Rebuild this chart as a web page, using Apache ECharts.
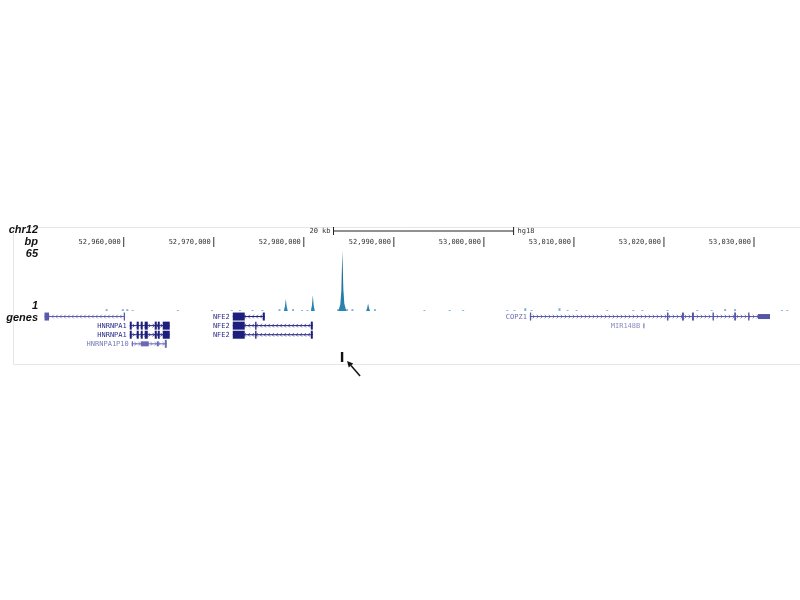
<!DOCTYPE html>
<html>
<head>
<meta charset="utf-8">
<script src="https://cdn.jsdelivr.net/npm/echarts@6/dist/echarts.min.js"></script>
<style>
  html, body { margin: 0; padding: 0; background: #fff; }
  #chart { width: 800px; height: 600px; }
</style>
</head>
<body>
<div id="chart"></div>
<script>
// genomic window (chr12, hg18)
var XMIN = 52950700;
var XMAX = 53034000;
var rulerTicks = [52960000, 52970000, 52980000, 52990000, 53000000, 53010000, 53020000, 53030000];
var scaleBar = [52983300, 53003300]; // 20 kb
var markerPos = 52984250;

// signal track (peaks), value range 0..65
var sigX = [52977780, 52977900, 52978000, 52978100, 52978220,
            52980780, 52980900, 52981000, 52981100, 52981220,
            52983830, 52984050, 52984170, 52984280, 52984390, 52984500, 52984720,
            52986920, 52987030, 52987140, 52987250, 52987360];
var sigY = [0, 5, 13, 5, 0,
            0, 6, 17, 6, 0,
            0, 7, 22, 65, 24, 8, 0,
            0, 3, 8, 3, 0];

// small background reads along the baseline
var dotX = [52958100, 52959900, 52960400, 52961000, 52966000, 52969800, 52972000, 52972900,
            52974300, 52975400, 52977300, 52978800, 52979800, 52980400, 52983800, 52984800,
            52985400, 52987900, 52993400, 52996200, 52997700, 53002600, 53003400, 53004600,
            53005300, 53008400, 53009300, 53010300, 53013700, 53016600, 53017600, 53020400,
            53023700, 53025300, 53026800, 53027900, 53033100, 53033700];
var dotY = [2, 2, 2, 1, 1, 1, 1, 1,
            1, 1, 2, 2, 1, 1, 2, 2,
            2, 2, 1, 1, 1, 1, 1, 3,
            1, 3, 1, 1, 1, 1, 1, 1,
            1, 1, 2, 2, 1, 1];

// gene models
var geneNames  = ['', 'HNRNPA1', 'HNRNPA1', 'HNRNPA1P10', 'NFE2', 'NFE2', 'NFE2', 'COPZ1', 'MIR148B'];
var geneRows   = [0, 1, 2, 3, 0, 1, 2, 0, 1];
var geneStarts = [52951200, 52960670, 52960670, 52960890, 52972110, 52972110, 52972110, 53005110, 53017700];
var geneEnds   = [52960110, 52965110, 52965110, 52964780, 52975670, 52981000, 52981000, 53031780, 53017800];
var geneStrand = [-1, 1, 1, 1, -1, -1, -1, 1, 1];
var geneExons = [
  [[52951200, 52951700, 1], [52960000, 52960110, 1]],
  [[52960670, 52960890, 1], [52961440, 52961670, 1], [52961890, 52962110, 1], [52962330, 52962670, 1],
   [52963440, 52963670, 1], [52963780, 52964000, 1], [52964330, 52965110, 1]],
  [[52960670, 52960890, 1], [52961440, 52961670, 1], [52961890, 52962110, 1], [52962330, 52962670, 1],
   [52963440, 52963670, 1], [52963780, 52964000, 1], [52964330, 52965110, 1]],
  [[52960890, 52961000, 0], [52961890, 52962780, 0], [52963670, 52963890, 0], [52964560, 52964780, 1]],
  [[52972110, 52973440, 1], [52975440, 52975670, 1]],
  [[52972110, 52973440, 1], [52974600, 52974720, 1], [52980780, 52981000, 1]],
  [[52972110, 52973440, 1], [52974600, 52974720, 1], [52980780, 52981000, 1]],
  [[53005110, 53005250, 1], [53020330, 53020500, 1], [53022000, 53022220, 1], [53023110, 53023330, 1],
   [53025400, 53025550, 1], [53027800, 53028000, 1], [53029350, 53029500, 1], [53030440, 53031780, 0]],
  [[53017700, 53017800, 0]]
];
var geneColors      = ['#5a5aaa', '#1e1e7c', '#1e1e7c', '#6a6ab4', '#1e1e7c', '#1e1e7c', '#1e1e7c', '#5656a8', '#8a8ac4'];
var geneLabelColors = ['#5a5aaa', '#2a2a88', '#2a2a88', '#7a7abc', '#2a2a88', '#2a2a88', '#2a2a88', '#6a6ab4', '#8a8ac4'];

// left-hand track labels
var trackLabels = ['chr12', 'bp', '65', '1', 'genes'];
var trackLabelY = [231, 243, 255, 307, 319];

var myChart = echarts.init(document.getElementById('chart'));

function renderGene(params, api) {
  var i = api.value(3);
  var s = api.coord([api.value(0), api.value(2)]);
  var e = api.coord([api.value(1), api.value(2)]);
  var y = s[1];
  var col = geneColors[i];
  var dir = geneStrand[i];
  var children = [];
  children.push({
    type: 'line',
    shape: { x1: s[0], y1: y, x2: e[0], y2: y },
    style: { stroke: col, lineWidth: 1 }
  });
  for (var x = s[0] + 4; x < e[0] - 3; x += 4) {
    children.push({
      type: 'polyline',
      shape: { points: [[x - dir * 1.2, y - 1.8], [x + dir * 0.6, y], [x - dir * 1.2, y + 1.8]] },
      style: { stroke: col, fill: null, lineWidth: 0.7 }
    });
  }
  geneExons[i].forEach(function (ex) {
    var a = api.coord([ex[0], api.value(2)])[0];
    var b = api.coord([ex[1], api.value(2)])[0];
    var h = ex[2] ? 8 : 5;
    children.push({
      type: 'rect',
      shape: { x: a, y: y - h / 2, width: Math.max(b - a, 1.3), height: h },
      style: { fill: col }
    });
  });
  if (geneNames[i]) {
    children.push({
      type: 'text',
      style: {
        text: geneNames[i], x: s[0] - 3, y: y + 0.5,
        align: 'right', verticalAlign: 'middle',
        font: '7px "DejaVu Sans Mono"', fill: geneLabelColors[i]
      }
    });
  }
  return { type: 'group', children: children };
}

function renderRulerTick(params, api) {
  var p = api.coord([api.value(0), 65]);
  return {
    type: 'line',
    shape: { x1: p[0], y1: p[1] - 14, x2: p[0], y2: p[1] - 4 },
    style: { stroke: '#333', lineWidth: 1 }
  };
}

function renderScaleBar(params, api) {
  var a = api.coord([api.value(0), 65]);
  var b = api.coord([api.value(1), 65]);
  var y = a[1] - 20;
  return {
    type: 'group',
    children: [
      { type: 'line', shape: { x1: a[0], y1: y, x2: b[0], y2: y }, style: { stroke: '#222', lineWidth: 1 } },
      { type: 'line', shape: { x1: a[0], y1: y - 4, x2: a[0], y2: y + 4 }, style: { stroke: '#222', lineWidth: 1 } },
      { type: 'line', shape: { x1: b[0], y1: y - 4, x2: b[0], y2: y + 4 }, style: { stroke: '#222', lineWidth: 1 } },
      { type: 'text', style: { text: '20 kb', x: a[0] - 3, y: y, align: 'right', verticalAlign: 'middle',
          font: '7px "DejaVu Sans Mono"', fill: '#333' } },
      { type: 'text', style: { text: 'hg18', x: b[0] + 4, y: y, align: 'left', verticalAlign: 'middle',
          font: '7px "DejaVu Sans Mono"', fill: '#333' } }
    ]
  };
}

function renderMarker(params, api) {
  var p = api.coord([api.value(0), api.value(1)]);
  var hx = p[0] + 5, hy = p[1] - 1;
  var tx = p[0] + 18, ty = p[1] + 14;
  var dx = hx - tx, dy = hy - ty;
  var len = Math.sqrt(dx * dx + dy * dy);
  var ux = dx / len, uy = dy / len;
  var bx = hx - ux * 6, by = hy - uy * 6;
  return {
    type: 'group',
    children: [
      { type: 'rect', shape: { x: p[0] - 1.2, y: p[1] - 10, width: 2.4, height: 10 }, style: { fill: '#111' } },
      { type: 'line', shape: { x1: tx, y1: ty, x2: bx, y2: by }, style: { stroke: '#111', lineWidth: 1.5 } },
      { type: 'polygon', shape: { points: [[hx, hy], [bx - uy * 3, by + ux * 3], [bx + uy * 3, by - ux * 3]] },
        style: { fill: '#111' } }
    ]
  };
}

var option = {
  backgroundColor: '#fff',
  animation: false,
  graphic: [
    {
      type: 'rect', left: 11, top: 225, z: -1,
      shape: { width: 800, height: 137 },
      style: { fill: null, stroke: '#e6e6e6', lineWidth: 1 }
    }
  ].concat(trackLabels.map(function (t, k) {
    return {
      type: 'text', right: 762, top: trackLabelY[k] - 7,
      style: { text: t, font: 'italic bold 11px "Liberation Sans"', fill: '#111', align: 'right' }
    };
  })),
  grid: [
    { left: 40, right: 10, top: 251, height: 60 },
    { left: 40, right: 10, top: 312, height: 50 }
  ],
  xAxis: [
    {
      gridIndex: 0, type: 'value', min: XMIN, max: XMAX, position: 'top', offset: 4,
      axisLine: { show: false },
      splitLine: { show: false },
      axisTick: { show: false },
      axisLabel: {
        customValues: rulerTicks,
        formatter: function (v) { return v.toLocaleString('en-US'); },
        align: 'right', verticalAlign: 'middle', margin: 5, padding: [0, 3, 0, 0],
        fontFamily: 'DejaVu Sans Mono', fontSize: 7, color: '#333'
      }
    },
    {
      gridIndex: 1, type: 'value', min: XMIN, max: XMAX, show: false
    }
  ],
  yAxis: [
    { gridIndex: 0, type: 'value', min: 0, max: 65, show: false },
    { gridIndex: 1, type: 'value', min: -0.5, max: 5, inverse: true, show: false }
  ],
  series: [
    {
      name: 'background',
      type: 'bar', xAxisIndex: 0, yAxisIndex: 0,
      barWidth: 2,
      itemStyle: { color: '#7fb2d4' },
      data: dotX.map(function (x, k) { return [x, dotY[k]]; })
    },
    {
      name: 'signal',
      type: 'line', xAxisIndex: 0, yAxisIndex: 0,
      showSymbol: false,
      lineStyle: { width: 0 },
      areaStyle: {
        opacity: 1,
        color: new echarts.graphic.LinearGradient(0, 0, 0, 1, [
          { offset: 0, color: '#1a5d86' },
          { offset: 1, color: '#2a86b4' }
        ])
      },
      data: sigX.map(function (x, k) { return [x, sigY[k]]; })
    },
    {
      name: 'ruler',
      type: 'custom', xAxisIndex: 0, yAxisIndex: 0, clip: false,
      renderItem: renderRulerTick,
      data: rulerTicks.map(function (v) { return [v]; })
    },
    {
      name: 'scale',
      type: 'custom', xAxisIndex: 0, yAxisIndex: 0, clip: false,
      renderItem: renderScaleBar,
      data: [scaleBar]
    },
    {
      name: 'genes',
      type: 'custom', xAxisIndex: 1, yAxisIndex: 1, clip: false,
      renderItem: renderGene,
      data: geneNames.map(function (n, k) { return [geneStarts[k], geneEnds[k], geneRows[k], k]; })
    },
    {
      name: 'marker',
      type: 'custom', xAxisIndex: 1, yAxisIndex: 1, clip: false,
      renderItem: renderMarker,
      data: [[markerPos, 5]]
    }
  ]
};
myChart.setOption(option);
window.addEventListener('resize', function () {
  myChart.resize();
});
</script>
</body>
</html>
